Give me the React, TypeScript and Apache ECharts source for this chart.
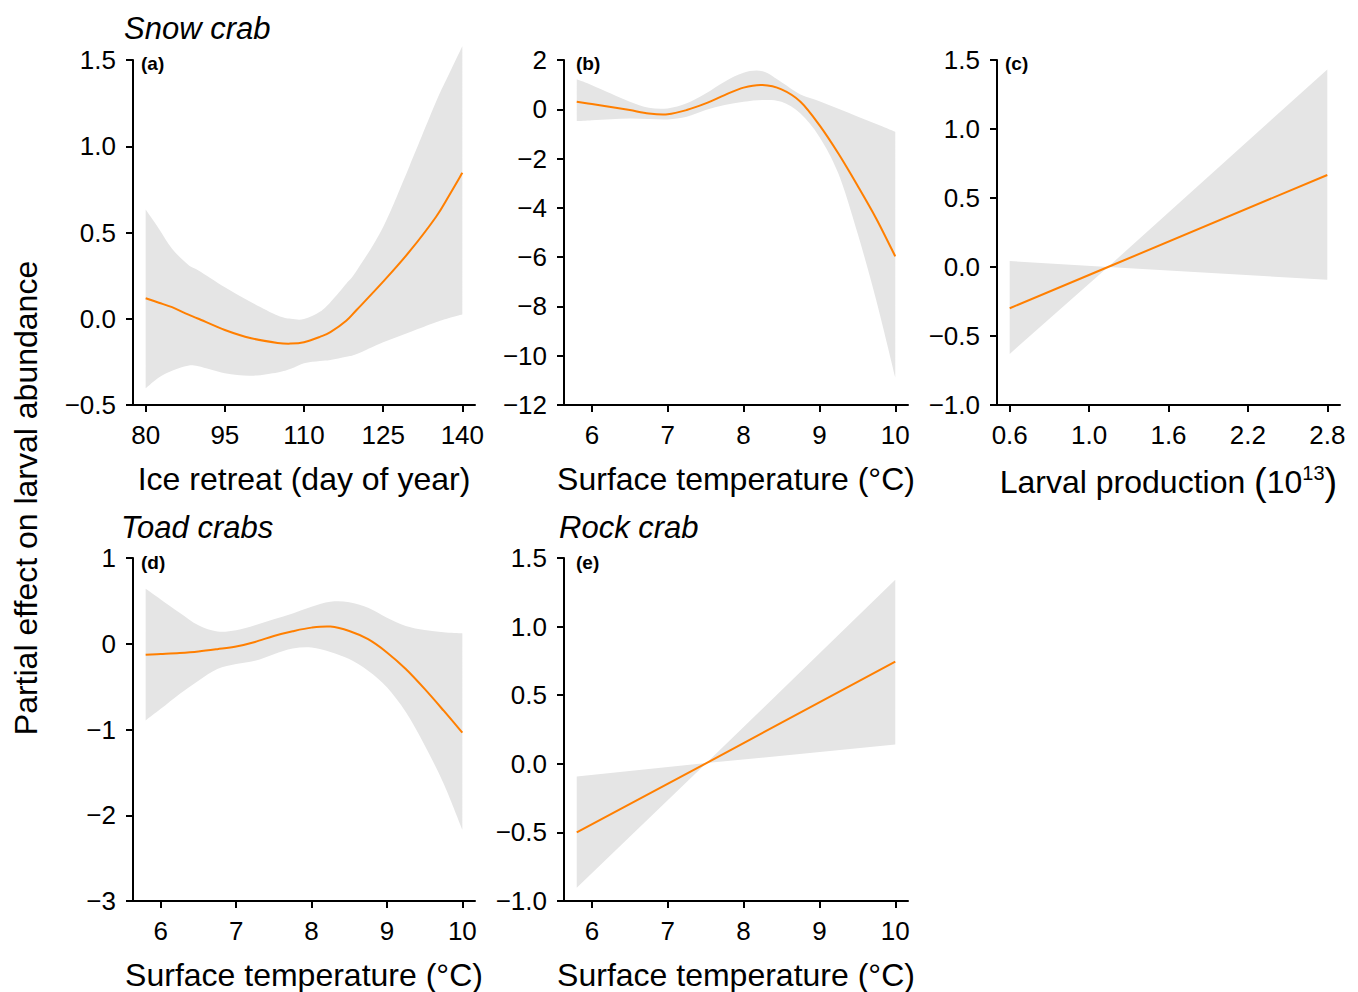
import React, { useEffect, useRef } from "react";
import * as echarts from "echarts";

// ---- (a) Snow crab: ice retreat (day of year)
const A_X = [80, 82.5, 85, 88, 90, 95, 100, 105, 107.5, 110, 113, 115, 118, 120, 125, 130, 135, 137.5, 140];
const A_FIT = [0.119, 0.093, 0.067, 0.025, 0.0, -0.065, -0.113, -0.14, -0.144, -0.136, -0.105, -0.078, -0.012, 0.052, 0.215, 0.39, 0.59, 0.715, 0.846];
const A_HI = [0.633, 0.522, 0.406, 0.315, 0.28, 0.183, 0.096, 0.019, 0.0, -0.002, 0.04, 0.096, 0.203, 0.28, 0.532, 0.886, 1.256, 1.42, 1.58];
const A_LO = [-0.403, -0.34, -0.301, -0.272, -0.276, -0.316, -0.33, -0.311, -0.29, -0.258, -0.245, -0.239, -0.22, -0.204, -0.136, -0.078, -0.02, 0.005, 0.025];

// ---- (b) Snow crab: surface temperature
const B_X = [5.8, 6, 6.25, 6.5, 6.75, 7, 7.25, 7.5, 7.75, 8, 8.25, 8.5, 8.75, 9, 9.25, 9.5, 9.75, 10];
const B_FIT = [0.305, 0.21, 0.09, -0.033, -0.17, -0.2, -0.03, 0.238, 0.577, 0.88, 0.983, 0.807, 0.305, -0.643, -1.796, -3.083, -4.44, -5.97];
const B_HI = [1.214, 0.98, 0.64, 0.305, 0.06, 0.035, 0.24, 0.64, 1.12, 1.485, 1.54, 1.1, 0.6, 0.33, 0.02, -0.29, -0.6, -0.915];
const B_LO = [-0.48, -0.44, -0.4, -0.37, -0.39, -0.41, -0.3, -0.03, 0.17, 0.305, 0.38, 0.305, -0.17, -1.12, -2.61, -5.0, -7.76, -10.88];

// ---- (c) Snow crab: larval production (10^13)
const C_X = [0.4, 1.143, 2.8];
const C_FIT = [-0.299, 0.0, 0.667];
const C_HI = [0.043, 0.0, 1.432];
const C_LO = [-0.63, 0.0, -0.093];

// ---- (d) Toad crabs: surface temperature
const D_X = [5.8, 6, 6.25, 6.5, 6.75, 7, 7.25, 7.5, 7.75, 8, 8.25, 8.5, 8.75, 9, 9.25, 9.5, 9.75, 10];
const D_FIT = [-0.129, -0.12, -0.108, -0.09, -0.063, -0.032, 0.021, 0.091, 0.146, 0.188, 0.2, 0.149, 0.053, -0.101, -0.295, -0.527, -0.778, -1.037];
const D_HI = [0.64, 0.517, 0.362, 0.215, 0.142, 0.157, 0.215, 0.285, 0.354, 0.432, 0.49, 0.485, 0.42, 0.304, 0.207, 0.16, 0.135, 0.122];
const D_LO = [-0.894, -0.759, -0.585, -0.431, -0.295, -0.237, -0.199, -0.121, -0.055, -0.043, -0.095, -0.179, -0.315, -0.507, -0.797, -1.184, -1.628, -2.17];

// ---- (e) Rock crab: surface temperature
const E_X = [5.8, 7.51, 10];
const E_FIT = [-0.5, 0.005, 0.745];
const E_HI = [-0.093, 0.005, 1.342];
const E_LO = [-0.903, 0.005, 0.14];

// ---- tick values / labels
const ICE_TICKS = [80, 95, 110, 125, 140];
const TEMP_TICKS = [6, 7, 8, 9, 10];
const PROD_TICKS = [0.4, 1.0, 1.6, 2.2, 2.8];
const PROD_TICK_LABELS = ["0.6", "1.0", "1.6", "2.2", "2.8"];

const FONT = '"Liberation Sans", Arial, Helvetica, sans-serif';
const ORANGE = "#ff7f00";
const BAND = "#e5e5e5";

const minus = (s: string) => s.replace("-", "\u2212");

type Pt = number[];

// Path segments through pixel points; Catmull-Rom style cubic curves when smooth.
function segments(pts: Pt[], smooth: boolean): string {
  let d = "";
  for (let i = 0; i < pts.length - 1; i++) {
    const p1 = pts[i];
    const p2 = pts[i + 1];
    if (!smooth) {
      d += ` L ${p2[0]} ${p2[1]}`;
      continue;
    }
    const p0 = pts[i - 1] || p1;
    const p3 = pts[i + 2] || p2;
    const c1x = p1[0] + (p2[0] - p0[0]) / 6;
    const c1y = p1[1] + (p2[1] - p0[1]) / 6;
    const c2x = p2[0] - (p3[0] - p1[0]) / 6;
    const c2y = p2[1] - (p3[1] - p1[1]) / 6;
    d += ` C ${c1x} ${c1y} ${c2x} ${c2y} ${p2[0]} ${p2[1]}`;
  }
  return d;
}

function xAxis(gridIndex: number, min: number, max: number, ticks: number[], fmt: (v: number) => string, name: any, rich?: any) {
  return {
    type: "value",
    gridIndex,
    min,
    max,
    axisLine: { show: true, onZero: false, lineStyle: { color: "#000", width: 2 } },
    axisTick: { show: true, length: 7, lineStyle: { color: "#000", width: 2 }, customValues: ticks },
    axisLabel: { customValues: ticks, formatter: fmt, fontSize: 26, color: "#000", margin: 17, fontFamily: FONT },
    splitLine: { show: false },
    name,
    nameLocation: "middle",
    nameGap: 58,
    nameTextStyle: { fontSize: 32, color: "#000", fontFamily: FONT, rich },
  };
}

function yAxis(gridIndex: number, min: number, max: number, interval: number, decimals: number) {
  return {
    type: "value",
    gridIndex,
    min,
    max,
    interval,
    axisLine: { show: true, onZero: false, lineStyle: { color: "#000", width: 2 } },
    axisTick: { show: true, length: 7, lineStyle: { color: "#000", width: 2 } },
    axisLabel: {
      formatter: (v: number) => minus(v.toFixed(decimals)),
      fontSize: 26,
      color: "#000",
      margin: 17,
      fontFamily: FONT,
    },
    splitLine: { show: false },
  };
}

function panelSeries(idx: number, xs: number[], fit: number[], lo: number[], hi: number[], smooth: boolean) {
  const data = xs.map((x, i) => [x, lo[i], hi[i], fit[i]]);
  return [
    {
      // confidence band
      type: "custom",
      xAxisIndex: idx,
      yAxisIndex: idx,
      data,
      encode: { x: 0, y: [1, 2] },
      clip: false,
      silent: true,
      renderItem: (params: any, api: any) => {
        if (params.dataIndex !== 0) return null;
        const up = xs.map((x, i) => api.coord([x, hi[i]]));
        const dn = xs.map((x, i) => api.coord([x, lo[i]])).reverse();
        const d =
          `M ${up[0][0]} ${up[0][1]}` +
          segments(up, smooth) +
          ` L ${dn[0][0]} ${dn[0][1]}` +
          segments(dn, smooth) +
          " Z";
        return { type: "path", shape: { pathData: d }, style: { fill: BAND, stroke: null } };
      },
    },
    {
      // fitted partial effect
      type: "custom",
      xAxisIndex: idx,
      yAxisIndex: idx,
      data,
      encode: { x: 0, y: 3 },
      clip: false,
      silent: true,
      renderItem: (params: any, api: any) => {
        if (params.dataIndex !== 0) return null;
        const pts = xs.map((x, i) => api.coord([x, fit[i]]));
        const d = `M ${pts[0][0]} ${pts[0][1]}` + segments(pts, smooth);
        return { type: "path", shape: { pathData: d }, style: { fill: null, stroke: ORANGE, lineWidth: 2 } };
      },
    },
  ];
}

function label(text: string, x: number, y: number, font: string) {
  return {
    type: "text",
    x,
    y,
    style: { text, font, fill: "#000", textAlign: "left", textVerticalAlign: "middle", align: "left", verticalAlign: "middle" },
  };
}

export default function App() {
  const ref = useRef<HTMLDivElement>(null);

  useEffect(() => {
    if (!ref.current) return;
    const chart = echarts.init(ref.current, undefined, { renderer: "svg" });

    const pad = (a: number, b: number) => (b - a) * 0.04;
    const tempMin = 5.8 - pad(5.8, 10);
    const tempMax = 10 + pad(5.8, 10);
    const tempFmt = (v: number) => String(Math.round(v));

    const option: any = {
      animation: false,
      backgroundColor: "#fff",
      grid: [
        { left: 133, top: 60, width: 342, height: 345 },
        { left: 564, top: 60, width: 344, height: 345 },
        { left: 997, top: 60, width: 343, height: 345 },
        { left: 133, top: 558, width: 342, height: 345 },
        { left: 564, top: 558, width: 344, height: 345 },
      ],
      xAxis: [
        xAxis(0, 80 - pad(80, 140), 140 + pad(80, 140), ICE_TICKS, (v) => String(Math.round(v)), "Ice retreat (day of year)"),
        xAxis(1, tempMin, tempMax, TEMP_TICKS, tempFmt, "Surface temperature (°C)"),
        xAxis(
          2,
          0.4 - pad(0.4, 2.8),
          2.8 + pad(0.4, 2.8),
          PROD_TICKS,
          (v) => {
            const i = PROD_TICKS.findIndex((t) => Math.abs(t - v) < 1e-6);
            return i >= 0 ? PROD_TICK_LABELS[i] : "";
          },
          "{t|Larval production }{p|(}{t|10}{s|13}{p|)}",
          {
            t: { fontSize: 32, fontFamily: FONT, color: "#000" },
            p: { fontSize: 38, fontFamily: FONT, color: "#000" },
            s: { fontSize: 20, fontFamily: FONT, color: "#000", verticalAlign: "top" },
          }
        ),
        xAxis(3, tempMin, tempMax, TEMP_TICKS, tempFmt, "Surface temperature (°C)"),
        xAxis(4, tempMin, tempMax, TEMP_TICKS, tempFmt, "Surface temperature (°C)"),
      ],
      yAxis: [
        yAxis(0, -0.5, 1.5, 0.5, 1),
        yAxis(1, -12, 2, 2, 0),
        yAxis(2, -1, 1.5, 0.5, 1),
        yAxis(3, -3, 1, 1, 0),
        yAxis(4, -1, 1.5, 0.5, 1),
      ],
      series: [
        ...panelSeries(0, A_X, A_FIT, A_LO, A_HI, true),
        ...panelSeries(1, B_X, B_FIT, B_LO, B_HI, true),
        ...panelSeries(2, C_X, C_FIT, C_LO, C_HI, false),
        ...panelSeries(3, D_X, D_FIT, D_LO, D_HI, true),
        ...panelSeries(4, E_X, E_FIT, E_LO, E_HI, false),
      ],
      graphic: [
        label("Snow crab", 124, 28, `italic 31px ${FONT}`),
        label("Toad crabs", 121, 527, `italic 31px ${FONT}`),
        label("Rock crab", 559, 527, `italic 31px ${FONT}`),
        label("(a)", 141, 63, `bold 19px ${FONT}`),
        label("(b)", 576, 63, `bold 19px ${FONT}`),
        label("(c)", 1005, 63, `bold 19px ${FONT}`),
        label("(d)", 141, 562, `bold 19px ${FONT}`),
        label("(e)", 576, 562, `bold 19px ${FONT}`),
        {
          type: "text",
          x: 26,
          y: 498,
          rotation: Math.PI / 2,
          style: {
            text: "Partial effect on larval abundance",
            font: `32px ${FONT}`,
            fill: "#000",
            textAlign: "center",
            textVerticalAlign: "middle",
            align: "center",
            verticalAlign: "middle",
          },
        },
      ],
    };

    chart.setOption(option);
    return () => chart.dispose();
  }, []);

  return (
    <div
      ref={ref}
      style={{ position: "absolute", left: 0, top: 0, width: 1358, height: 992, background: "#fff" }}
    />
  );
}
